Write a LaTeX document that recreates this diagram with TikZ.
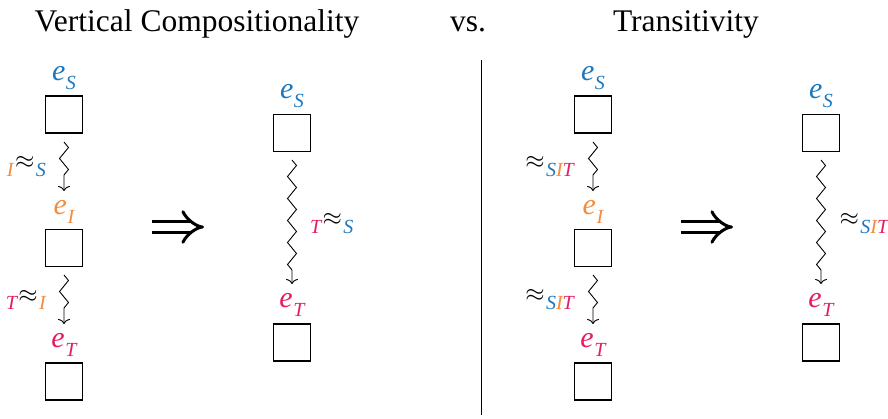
\documentclass[tikz,border=0pt]{standalone}
\usepackage{fontspec}
\setmainfont{Liberation Serif}
\usetikzlibrary{decorations.pathmorphing,arrows.meta}
\definecolor{cS}{RGB}{30,120,190}
\definecolor{cI}{RGB}{243,140,60}
\definecolor{cT}{RGB}{230,28,100}
\newcommand{\subx}[1]{\raisebox{-0.28em}{\fontsize{20}{22}\selectfont\itshape #1}}
\newcommand{\vS}{\textcolor{cS}{S}}
\newcommand{\vI}{\textcolor{cI}{I}}
\newcommand{\vT}{\textcolor{cT}{T}}
\newcommand{\ev}[2]{\textcolor{#1}{\textit{e}\kern0.02em\subx{#2}}}
\newcommand{\apx}{\kern0.05em{\fontsize{30}{34}\selectfont$\approx$}\kern0.05em}
\tikzset{
  ebox/.style={draw, line width=1.1pt, minimum width=37pt, minimum height=37pt, inner sep=0pt},
  elab/.style={inner sep=0pt, font=\fontsize{30}{34}\selectfont},
  rlab/.style={inner sep=0pt, font=\fontsize{28}{32}\selectfont},
  title/.style={inner sep=0pt, font=\fontsize{31.5}{36}\selectfont},
  sq/.style={line width=0.9pt, -{To[length=5pt,width=12pt]}, decorate,
    decoration={zigzag, segment length=22pt, amplitude=4.5pt, post length=11pt, pre length=0pt}},
  impl/.style={line width=3pt, double distance=8.5pt, -{Implies}}
}
\begin{document}
\begin{tikzpicture}[x=1pt,y=-1pt]
\useasboundingbox (0,0) rectangle (888,418);
% titles
\node[title] (t1) at (197,24) {Vertical Compositionality};
\node[title] (t2) at (468,24) {vs.};
\node[title] (t3) at (686,24) {Transitivity};
% divider
\coordinate (d1) at (481,60);
\coordinate (d2) at (481,415);
\draw[line width=0.9pt] (d1) -- (d2);

% column 1
\node[elab] (l1s) at (64,78) {\ev{cS}{S}};
\node[ebox] (b1s) at (64,114.5) {};
\node[elab] (l1i) at (64,212) {\ev{cI}{I}};
\node[ebox] (b1i) at (64,248) {};
\node[elab] (l1t) at (64,345) {\ev{cT}{T}};
\node[ebox] (b1t) at (64,381.5) {};
\coordinate (a1s) at (64,142);
\coordinate (a1e) at (64,191);
\draw[sq] (a1s) -- (a1e);
\coordinate (a2s) at (64,275);
\coordinate (a2e) at (64,324);
\draw[sq] (a2s) -- (a2e);
\node[rlab,anchor=east] (r1) at (46,167) {\subx{\vI}\apx\subx{\vS}};
\node[rlab,anchor=east] (r2) at (46,300) {\subx{\vT}\apx\subx{\vI}};

\coordinate (i1s) at (152,227);
\coordinate (i1e) at (204,227);
\draw[impl] (i1s) -- (i1e);

% column 2
\node[elab] (l2s) at (292,96) {\ev{cS}{S}};
\node[ebox] (b2s) at (292,133) {};
\node[elab] (l2t) at (292,305) {\ev{cT}{T}};
\node[ebox] (b2t) at (292,342.5) {};
\coordinate (a3s) at (292,160);
\coordinate (a3e) at (292,284);
\draw[sq] (a3s) -- (a3e);
\node[rlab,anchor=west] (r3) at (310,224) {\subx{\vT}\apx\subx{\vS}};

% column 3
\node[elab] (l3s) at (593,78) {\ev{cS}{S}};
\node[ebox] (b3s) at (593,114.5) {};
\node[elab] (l3i) at (593,212) {\ev{cI}{I}};
\node[ebox] (b3i) at (593,248) {};
\node[elab] (l3t) at (593,345) {\ev{cT}{T}};
\node[ebox] (b3t) at (593,381.5) {};
\coordinate (a4s) at (593,142);
\coordinate (a4e) at (593,191);
\draw[sq] (a4s) -- (a4e);
\coordinate (a5s) at (593,275);
\coordinate (a5e) at (593,324);
\draw[sq] (a5s) -- (a5e);
\node[rlab,anchor=east] (r4) at (574,167) {\apx\subx{\vS\vI\vT}};
\node[rlab,anchor=east] (r5) at (574,300) {\apx\subx{\vS\vI\vT}};

\coordinate (i2s) at (681,227);
\coordinate (i2e) at (733,227);
\draw[impl] (i2s) -- (i2e);

% column 4
\node[elab] (l4s) at (821,96) {\ev{cS}{S}};
\node[ebox] (b4s) at (821,133) {};
\node[elab] (l4t) at (821,305) {\ev{cT}{T}};
\node[ebox] (b4t) at (821,342.5) {};
\coordinate (a6s) at (821,160);
\coordinate (a6e) at (821,284);
\draw[sq] (a6s) -- (a6e);
\node[rlab,anchor=west] (r6) at (838,224) {\apx\subx{\vS\vI\vT}};
\end{tikzpicture}
\end{document}
